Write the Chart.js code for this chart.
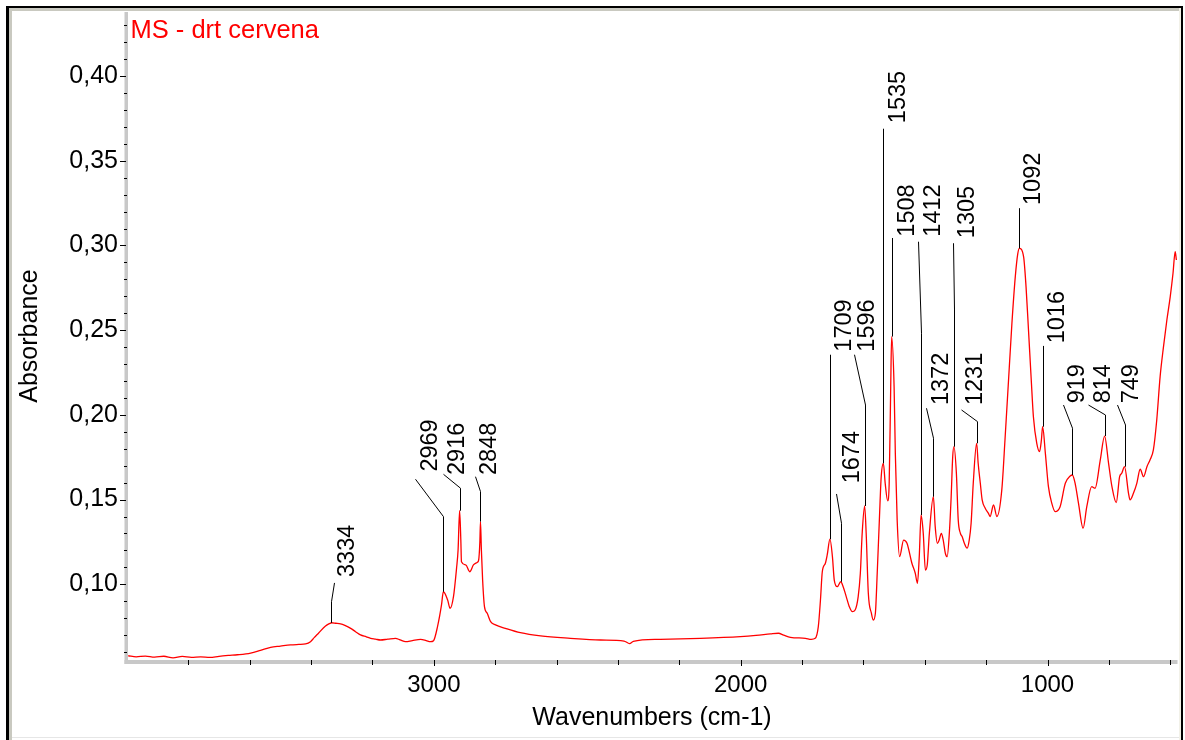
<!DOCTYPE html>
<html><head><meta charset="utf-8">
<script src="https://cdn.jsdelivr.net/npm/chart.js@4"></script>
<style>html,body{margin:0;padding:0;background:#fff;overflow:hidden}#wrap{width:1185px;height:740px}</style>
</head><body><div id="wrap"><canvas id="c" width="1185" height="740"></canvas></div>
<script>
// ---- data ----
const wavenumbers = [3996,3970,3940,3910,3880,3850,3820,3790,3760,3730,3700,3670,3640,3597,3565,3532,3500,3467,3440,3418,3402,3390,3376,3353,3340,3333,3320,3304,3290,3271,3255,3239,3220,3206,3190,3174,3150,3125,3110,3092,3070,3043,3025,3011,3001,2988,2975,2969,2955,2947,2936,2926,2921,2916,2912,2910,2896,2883,2871,2858,2854,2850,2848,2845,2841,2835,2826,2815,2799,2767,2718,2652,2555,2457,2380,2362,2350,2262,2131,2001,1950,1903,1877,1860,1838,1789,1770,1757,1747,1740,1734,1724,1718,1709,1701,1695,1685,1674,1666,1656,1646,1636,1627,1617,1610,1604,1596,1591,1584,1574,1568,1561,1555,1548,1542,1535,1529,1521,1516,1511,1508,1500,1496,1490,1482,1469,1458,1442,1431,1424,1418,1412,1405,1398,1392,1385,1372,1366,1359,1353,1346,1340,1333,1327,1320,1314,1309,1305,1297,1291,1284,1278,1271,1262,1255,1249,1242,1231,1226,1219,1213,1203,1193,1187,1176,1165,1149,1138,1127,1116,1105,1097,1092,1078,1070,1062,1053,1046,1035,1026,1020,1016,1007,997,986,975,959,942,926,919,910,899,884,872,856,845,828,814,801,790,776,765,758,749,736,731,720,709,698,687,676,666,655,644,633,622,611,600,591,584,580];
const absorbance = [0.0578,0.0572,0.0576,0.0570,0.0575,0.0566,0.0574,0.0569,0.0572,0.0568,0.0575,0.0580,0.0584,0.0594,0.0610,0.0628,0.0635,0.0642,0.0645,0.0648,0.0661,0.0685,0.0711,0.0754,0.0768,0.0773,0.0770,0.0766,0.0757,0.0740,0.0720,0.0701,0.0690,0.0681,0.0676,0.0671,0.0676,0.0681,0.0672,0.0661,0.0668,0.0675,0.0668,0.0661,0.0667,0.0750,0.0878,0.0956,0.0907,0.0858,0.0927,0.1094,0.1202,0.1434,0.1260,0.1133,0.1114,0.1074,0.1114,0.1130,0.1143,0.1250,0.1370,0.1200,0.1025,0.0868,0.0829,0.0779,0.0760,0.0740,0.0714,0.0695,0.0681,0.0671,0.0665,0.0650,0.0663,0.0675,0.0681,0.0691,0.0698,0.0707,0.0711,0.0700,0.0687,0.0681,0.0675,0.0681,0.0750,0.0907,0.1074,0.1124,0.1173,0.1266,0.1163,0.1025,0.0986,0.1015,0.0986,0.0927,0.0868,0.0838,0.0848,0.0927,0.1065,0.1301,0.1462,0.1301,0.0947,0.0829,0.0789,0.0829,0.1065,0.1380,0.1635,0.1714,0.1596,0.1493,0.1596,0.2166,0.2462,0.2166,0.1773,0.1380,0.1163,0.1261,0.1242,0.1124,0.1065,0.1006,0.1163,0.1409,0.1302,0.1084,0.1114,0.1302,0.1517,0.1340,0.1242,0.1262,0.1301,0.1262,0.1183,0.1163,0.1301,0.1517,0.1753,0.1812,0.1655,0.1380,0.1301,0.1281,0.1242,0.1213,0.1262,0.1360,0.1596,0.1832,0.1714,0.1596,0.1498,0.1449,0.1420,0.1400,0.1468,0.1400,0.1557,0.1871,0.2206,0.2541,0.2816,0.2950,0.2983,0.2934,0.2757,0.2501,0.2206,0.1989,0.1832,0.1783,0.1850,0.1930,0.1773,0.1576,0.1478,0.1429,0.1458,0.1596,0.1639,0.1645,0.1596,0.1478,0.1331,0.1458,0.1576,0.1567,0.1734,0.1875,0.1714,0.1576,0.1482,0.1635,0.1655,0.1694,0.1537,0.1498,0.1537,0.1596,0.1679,0.1635,0.1694,0.1734,0.1793,0.1970,0.2226,0.2403,0.2560,0.2698,0.2836,0.2963,0.2914];
const peakLabels = [3334,2969,2916,2848,1709,1674,1596,1535,1508,1412,1372,1305,1231,1092,1016,919,814,749];
const xTickValues = [600,800,1000,1200,1400,1600,1800,2000,2200,2400,2600,2800,3000,3200,3400,3600,3800];
const xLabelValues = [1000,2000,3000];
const xTickLabels = ['1000','2000','3000'];
const yTickValues = [0.06,0.07,0.08,0.09,0.10,0.11,0.12,0.13,0.14,0.15,0.16,0.17,0.18,0.19,0.20,0.21,0.22,0.23,0.24,0.25,0.26,0.27,0.28,0.29,0.30,0.31,0.32,0.33,0.34,0.35,0.36,0.37,0.38,0.39,0.40,0.41,0.42,0.43];
const yLabelValues = [0.10,0.15,0.20,0.25,0.30,0.35,0.40];
const yTickLabels = ['0,10','0,15','0,20','0,25','0,30','0,35','0,40'];
const seriesName = 'MS - drt cervena';
const xAxisTitle = 'Wavenumbers (cm-1)';
const yAxisTitle = 'Absorbance';

// ---- annotation layout (in data units: wavenumber, absorbance) ----
const labelLayout = [
  {knee:0.0897, end:[3327,0.1008], text:[3281,0.1043]},
  {knee:0.1399, end:[3063,0.1620], text:[3012,0.1665]},
  {knee:0.1567, end:[2969,0.1649], text:[2923,0.1645]},
  {knee:0.1547, end:[2866,0.1635], text:[2819,0.1645]},
  {knee:null,   end:[1709,0.2355], text:[1660,0.2373]},
  {knee:0.1360, end:[1688,0.1533], text:[1637,0.1596]},
  {knee:0.2058, end:[1632,0.2355], text:[1586,0.2373]},
  {knee:null,   end:[1535,0.3689], text:[1487,0.3722]},
  {knee:null,   end:[1508,0.3044], text:[1457,0.3052]},
  {knee:0.2482, end:[1423,0.3022], text:[1371,0.3052]},
  {knee:0.1862, end:[1397,0.2039], text:[1347,0.2058]},
  {knee:0.2619, end:[1309,0.3013], text:[1261,0.3043]},
  {knee:0.1960, end:[1282,0.2029], text:[1234,0.2058]},
  {knee:null,   end:[1092,0.3220], text:[1044,0.3239]},
  {knee:null,   end:[1016,0.2407], text:[966,0.2423]},
  {knee:0.1921, end:[950,0.2058],  text:[902,0.2068]},
  {knee:0.1999, end:[867,0.2058],  text:[819,0.2068]},
  {knee:0.1940, end:[774,0.2058],  text:[727,0.2068]}
];

const FONT = '"Liberation Sans", Arial, sans-serif';

function curveAt(w){
  for (let i=0;i<wavenumbers.length-1;i++){
    const a=wavenumbers[i], b=wavenumbers[i+1];
    if (w<=a && w>=b){ const t=(a-w)/(a-b); return absorbance[i]+t*(absorbance[i+1]-absorbance[i]); }
  }
  return absorbance[absorbance.length-1];
}
function zeroPad(s){ s.paddingTop=0; s.paddingBottom=0; s.paddingLeft=0; s.paddingRight=0; }

const framePlugin = {
  id:'frame',
  beforeDraw(chart){
    const c = chart.ctx;
    c.save();
    c.fillStyle='#ffffff'; c.fillRect(0,0,chart.width,chart.height);
    c.fillStyle='#c9c9c0';
    c.fillRect(9,8,1172,3);
    c.fillRect(9,8,3,732);
    c.fillStyle='#f2f1e8'; c.fillRect(1179,8,2,732);
    c.fillStyle='#e6e6e6'; c.fillRect(12,737,1167,1);
    c.fillStyle='#000';
    c.fillRect(6,6,1177,2);
    c.fillRect(6,6,3,734);
    c.fillRect(1181,6,2,734);
    c.restore();
  },
  afterDraw(chart){
    const c = chart.ctx, a = chart.chartArea, xs = chart.scales.x, ys = chart.scales.y;
    c.save();
    c.fillStyle='#c8c8c8';
    c.fillRect(a.left-2.5, a.top, 3.5, a.bottom-a.top+4);
    c.fillRect(a.left-2.5, a.bottom, a.right-a.left+3, 4);
    c.fillStyle='#000';
    yTickValues.forEach(v=>{
      const py = Math.round(ys.getPixelForValue(v));
      const major = yLabelValues.some(l=>Math.abs(l-v)<1e-9);
      if (major) c.fillRect(a.left-7, py, 6, 1); else c.fillRect(a.left-3, py, 3, 1);
    });
    xTickValues.forEach(v=>{
      const px = Math.round(xs.getPixelForValue(v));
      const major = xLabelValues.includes(v);
      c.fillRect(px, a.bottom, 1, major?6:5);
    });
    c.fillStyle='#ff0000';
    c.font = '25.5px '+FONT;
    c.textAlign='left'; c.textBaseline='alphabetic';
    c.fillText(seriesName, a.left+3.5, a.top+25.5);
    c.restore();
  },
  afterDatasetsDraw(chart){
    const c = chart.ctx, xs = chart.scales.x, ys = chart.scales.y;
    c.save();
    c.strokeStyle='#000'; c.lineWidth=1; c.fillStyle='#000';
    c.font = '23.5px '+FONT;
    peakLabels.forEach((lab,i)=>{
      const L = labelLayout[i];
      const px = Math.round(xs.getPixelForValue(lab))+0.5;
      const py0 = ys.getPixelForValue(curveAt(lab));
      c.beginPath();
      c.moveTo(px, py0);
      if (L.knee!==null) c.lineTo(px, ys.getPixelForValue(L.knee));
      c.lineTo(Math.round(xs.getPixelForValue(L.end[0]))+0.5, ys.getPixelForValue(L.end[1]));
      c.stroke();
      c.save();
      c.translate(xs.getPixelForValue(L.text[0]), ys.getPixelForValue(L.text[1]));
      c.rotate(-Math.PI/2);
      c.textAlign='left'; c.textBaseline='middle';
      c.fillText(String(lab),0,0);
      c.restore();
    });
    c.restore();
  }
};

new Chart(document.getElementById('c'), {
  type:'line',
  data:{ datasets:[{ data: wavenumbers.map((w,i)=>({x:w,y:absorbance[i]})), borderColor:'#ff0000', borderWidth:1.3, pointRadius:0, cubicInterpolationMode:'monotone', fill:false }] },
  options:{
    responsive:false, animation:false, devicePixelRatio:1,
    layout:{padding:{left:12,right:8,top:12,bottom:0}},
    plugins:{legend:{display:false}, tooltip:{enabled:false}, title:{display:false}},
    scales:{
      x:{ type:'linear', reverse:true, min:578, max:4000,
        afterBuildTicks:s=>{ s.ticks = xTickValues.map(v=>({value:v})); },
        ticks:{ autoSkip:false, maxRotation:0, minRotation:0, padding:5, color:'#000', font:{family:FONT,size:24},
          callback:(v)=>{ const k = xLabelValues.indexOf(v); return k>=0 ? xTickLabels[k] : null; } },
        grid:{ drawOnChartArea:false, drawTicks:true, tickLength:6, color:'transparent', tickColor:'transparent' },
        border:{display:false},
        title:{ display:true, text:xAxisTitle, color:'#000', font:{family:FONT,size:25}, padding:{top:0,bottom:7} },
        afterFit:s=>{ s.height = 80; zeroPad(s); }
      },
      y:{ type:'linear', min:0.0553, max:0.4378,
        afterBuildTicks:s=>{ s.ticks = yTickValues.map(v=>({value:v})); },
        ticks:{ autoSkip:false, padding:0, color:'#000', font:{family:FONT,size:25},
          callback:(v)=>{ const k = yLabelValues.findIndex(l=>Math.abs(l-v)<1e-9); return k>=0 ? yTickLabels[k] : null; } },
        grid:{ drawOnChartArea:false, drawTicks:true, tickLength:9, color:'transparent', tickColor:'transparent' },
        border:{display:false},
        title:{ display:true, text:yAxisTitle, color:'#000', font:{family:FONT,size:25}, padding:{top:3,bottom:0} },
        afterFit:s=>{ s.width = 115; zeroPad(s); }
      }
    }
  },
  plugins:[framePlugin]
});
</script>
</body></html>
